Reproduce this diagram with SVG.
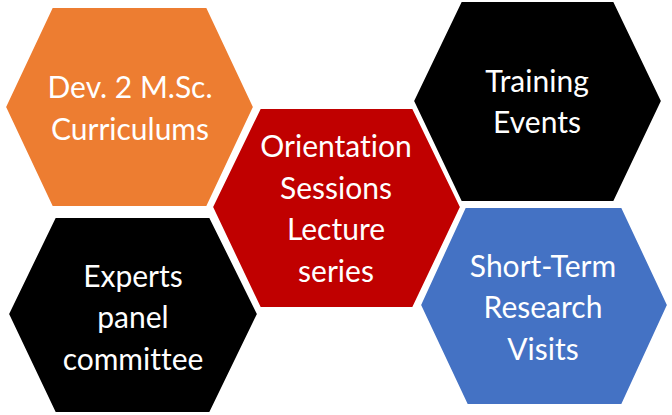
<svg xmlns="http://www.w3.org/2000/svg" width="672" height="415" viewBox="0 0 672 415">
<style>
.hex{stroke:#ffffff;stroke-width:2;stroke-linejoin:miter}
.t{font-family:Lato,"Open Sans","Liberation Sans",sans-serif;font-size:30px;fill:#ffffff;text-anchor:middle;font-variant-ligatures:none;font-feature-settings:"liga" 0}
</style>
<rect width="672" height="415" fill="#ffffff"/>
<g id="connectors"></g>
<g id="node-dev">
<polygon class="hex" fill="#ED7D31" points="52,7 207,7 254,107 207,207 52,207 5,107"/>
<text class="t" x="130" y="98">Dev. 2 M.Sc.</text>
<text class="t" x="130" y="140">Curriculums</text>
</g>
<g id="node-training">
<polygon class="hex" fill="#000000" points="461,1 614,1 662,101 614,202 461,202 413,101"/>
<text class="t" x="537" y="92">Training</text>
<text class="t" x="537" y="133">Events</text>
</g>
<g id="node-orientation">
<polygon class="hex" fill="#C00000" points="260,108 413,108 461,207 413,308 260,308 212,207"/>
<text class="t" x="336" y="157">Orientation</text>
<text class="t" x="336" y="199">Sessions</text>
<text class="t" x="336" y="240">Lecture</text>
<text class="t" x="336" y="282">series</text>
</g>
<g id="node-experts">
<polygon class="hex" fill="#000000" points="55,217 210,217 258,314 210,413 55,413 8,314"/>
<text class="t" x="133" y="287">Experts</text>
<text class="t" x="133" y="328">panel</text>
<text class="t" x="133" y="370">committee</text>
</g>
<g id="node-visits">
<polygon class="hex" fill="#4472C4" points="465,207 622,207 668,305 622,405 467,405 420,305"/>
<text class="t" x="543" y="277">Short-Term</text>
<text class="t" x="543" y="318">Research</text>
<text class="t" x="543" y="360">Visits</text>
</g>
</svg>
